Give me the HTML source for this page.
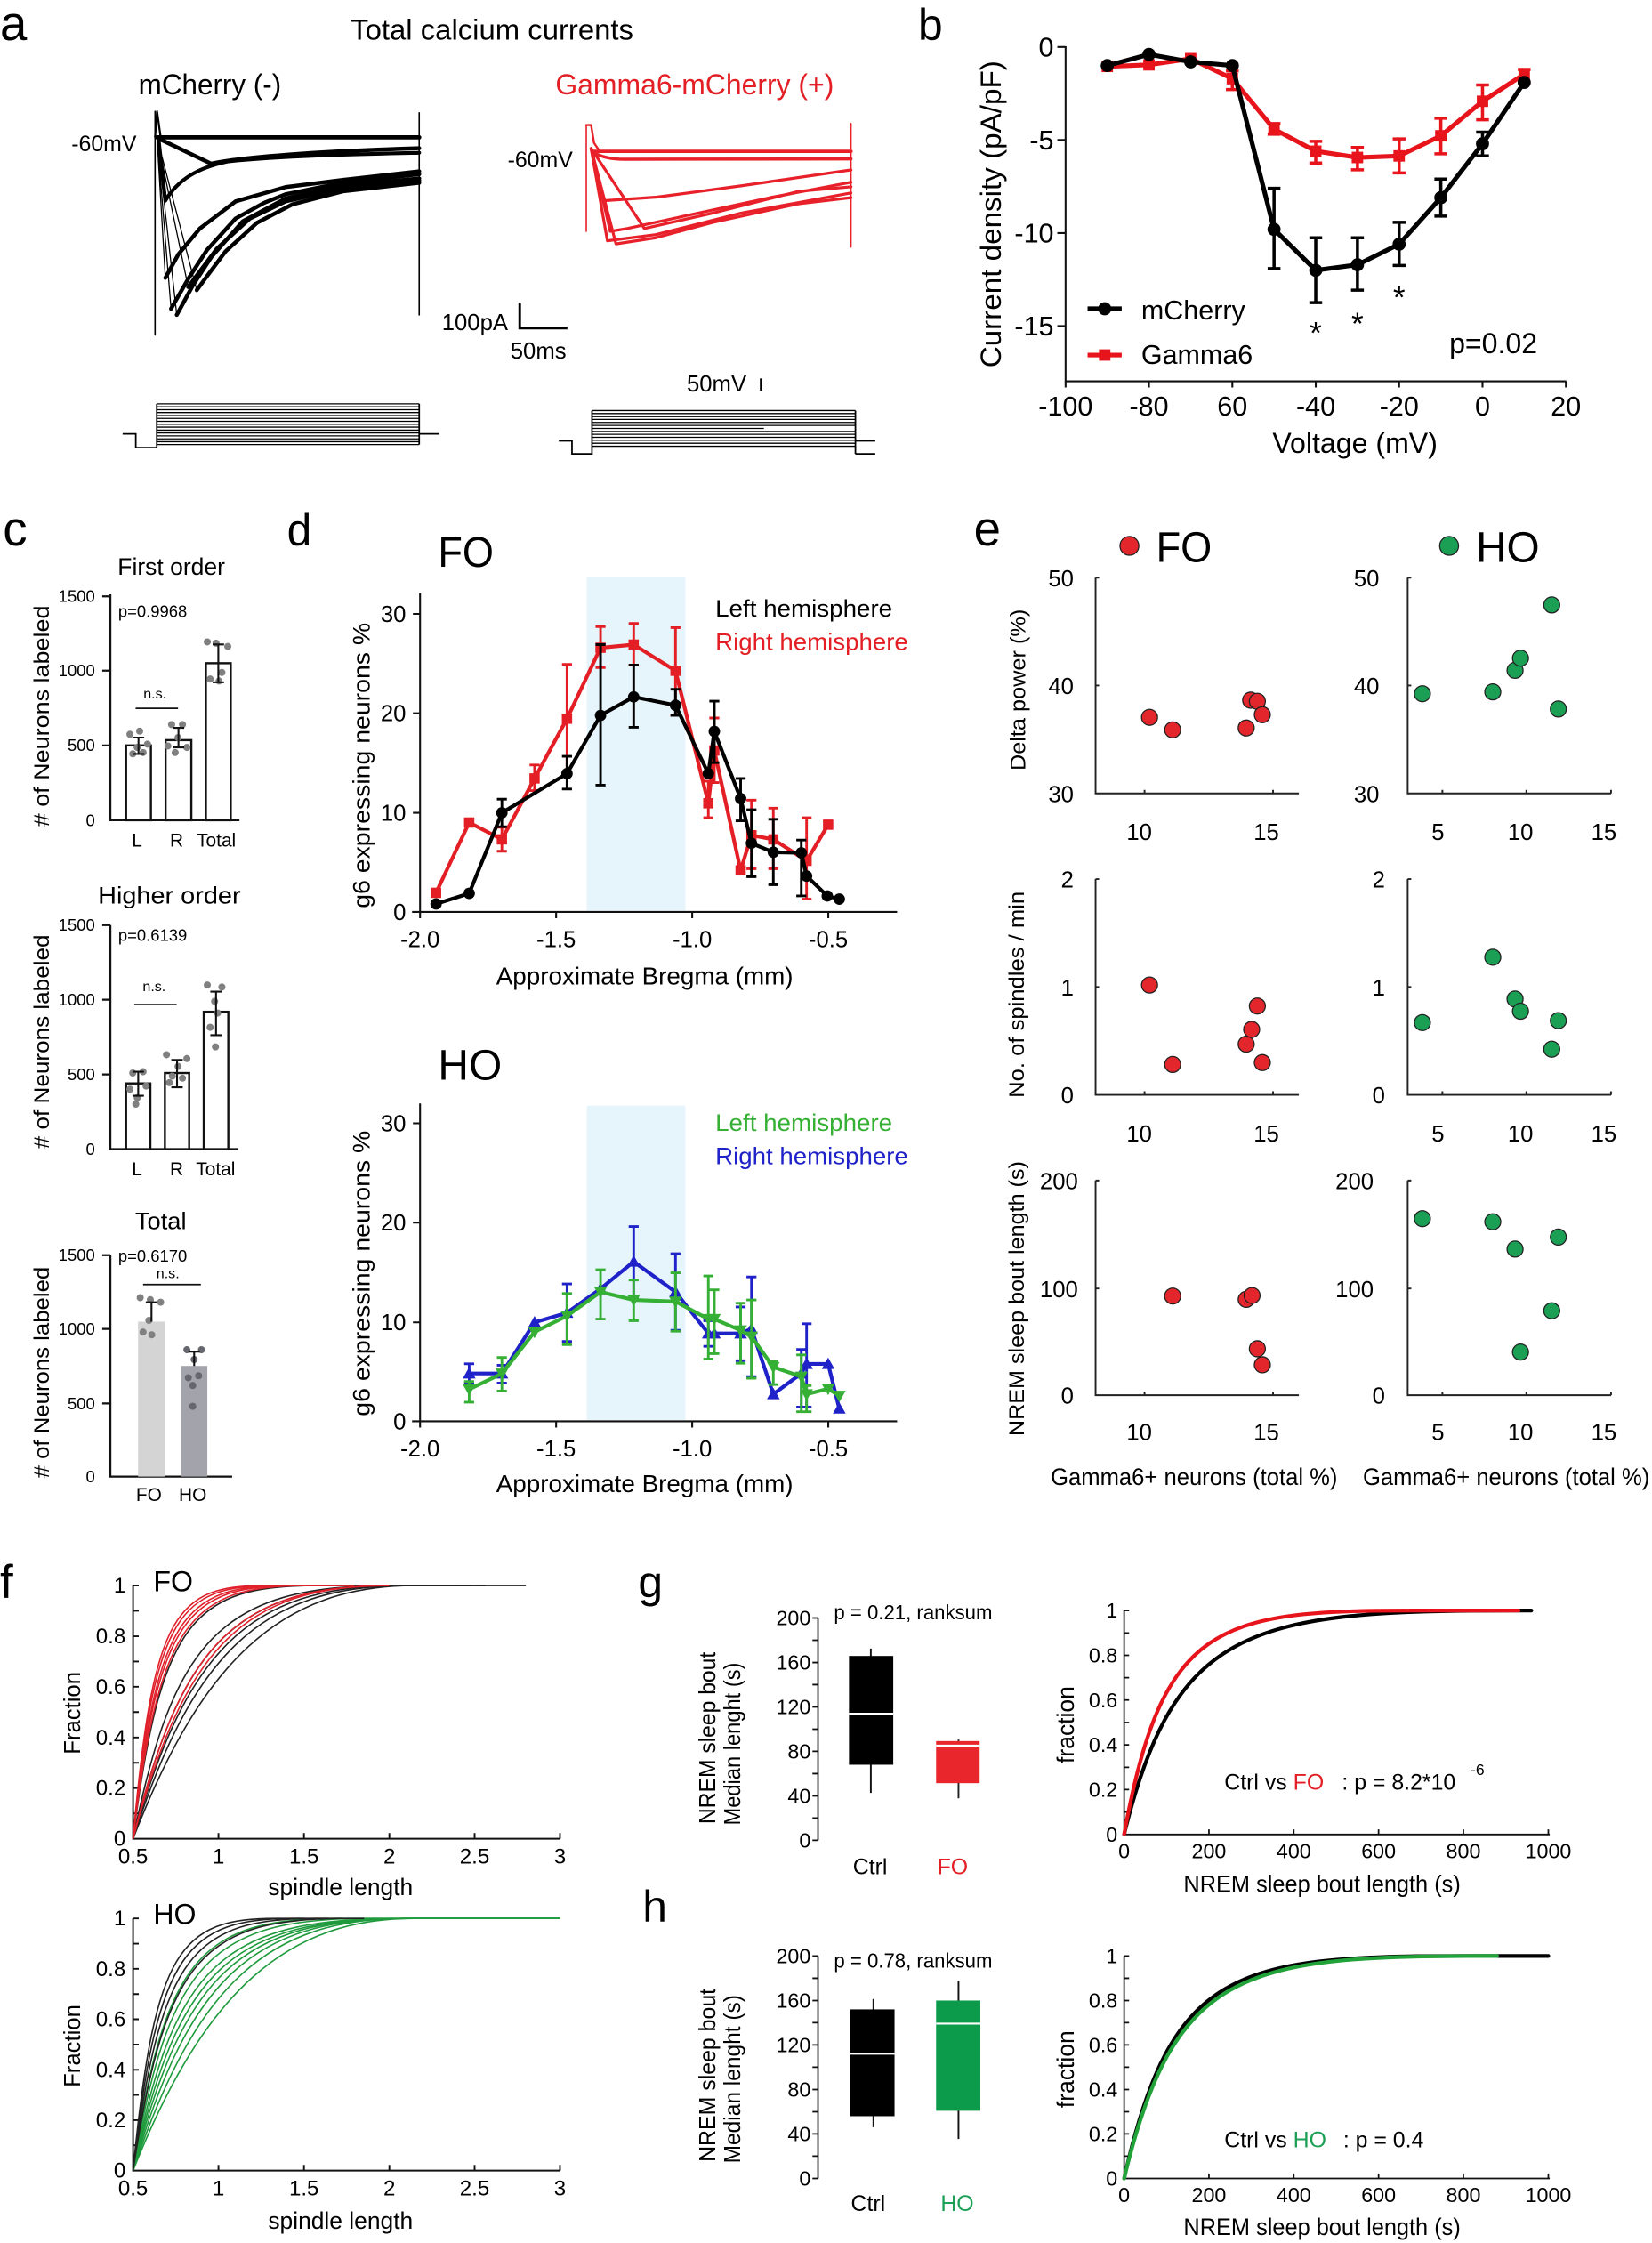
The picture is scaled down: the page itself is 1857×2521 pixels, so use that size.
<!DOCTYPE html>
<html><head><meta charset="utf-8"><title>Figure</title>
<style>
html,body{margin:0;padding:0;background:#fff;width:1857px;height:2521px;overflow:hidden}
svg{display:block}
text{font-family:"Liberation Sans",Arial,sans-serif}
</style></head><body>
<svg xmlns="http://www.w3.org/2000/svg" xmlns:xlink="http://www.w3.org/1999/xlink" width="1857" height="2521" viewBox="0 0 1157 1570.7" preserveAspectRatio="none">
<rect width="1157" height="1570.7" fill="#fff"/>
<defs>
<circle id="cb" r="4.6"/>
<rect id="sq" x="-4" y="-4" width="8" height="8"/>
<circle id="cd" r="4"/>
<rect id="sd" x="-3.6" y="-3.6" width="7.2" height="7.2"/>
<path id="tu" d="M0 -4.5L4.5 3.5H-4.5Z"/>
<path id="td" d="M0 4.5L4.5 -3.5H-4.5Z"/>
<circle id="dot" r="2.5"/>
<circle id="ec" r="5.6"/>
</defs>

<!-- ================= PANEL A ================= -->
<text x="0" y="28" font-size="34">a</text>
<text x="245.6" y="27.7" font-size="20" textLength="198" lengthAdjust="spacingAndGlyphs">Total calcium currents</text>
<text x="97" y="66" font-size="20" textLength="100" lengthAdjust="spacingAndGlyphs">mCherry (-)</text>
<text x="389" y="66" font-size="20" fill="#e31e24" textLength="195" lengthAdjust="spacingAndGlyphs">Gamma6-mCherry (+)</text>
<text x="50" y="106" font-size="15.5">-60mV</text>
<text x="355.5" y="117" font-size="15.5">-60mV</text>

<g fill="none" stroke="#000" stroke-linejoin="round" stroke-linecap="round">
<line x1="108.6" y1="78" x2="108.6" y2="234.6" stroke-width="1"/>
<line x1="293.6" y1="79" x2="293.6" y2="220.5" stroke-width="1"/>
<path d="M108.6 96 L110 78 L112.5 96" stroke-width="1.4"/>
<path d="M110 96.2 L293.6 96.2" stroke-width="3"/>
<path d="M111 97 L147.8 114.6 C170 110 220 106 293.6 103.8" stroke-width="2.8"/>
<path d="M111 97 L115.8 140.5 C125 125 140 117 160 113 C200 109 250 108 293.6 107" stroke-width="2.6"/>
<path d="M110 96.5 L115.8 194.6 M110 96.5 L119.8 216.2 M110 96.5 L123.8 220.5 M110 96.5 L131.8 201 M110 96.5 L137.8 203.2" stroke-width="0.8"/>
<polyline points="115.8,194.6 125,178 140,160 165,141 200,131 240,126 293.6,120" stroke-width="2.8"/>
<polyline points="119.8,216.2 132,195 145,175 165,153 185,142 200,136 240,128 293.6,122" stroke-width="2.8"/>
<polyline points="123.8,220.5 135,200 148,180 170,155 200,139 240,130 293.6,125" stroke-width="2.8"/>
<polyline points="131.8,201 140,190 152,174 175,153 200,141 240,132 293.6,126.5" stroke-width="2.8"/>
<polyline points="137.8,203.2 146,192 158,176 180,156 205,143 240,134 293.6,128" stroke-width="2.8"/>
</g>

<g fill="none" stroke="#e8202a" stroke-linejoin="round" stroke-linecap="round">
<line x1="410.6" y1="87.6" x2="410.6" y2="162" stroke-width="1"/>
<line x1="596" y1="86.5" x2="596" y2="173" stroke-width="1"/>
<path d="M410.6 87.6 L414 87.6 L416 100 L420 106" stroke-width="1.5"/>
<path d="M416 106 L596 106" stroke-width="2.4"/>
<path d="M416 107 Q425 112 440 111.5 L596 111.3" stroke-width="2.2"/>
<path d="M414 104 L423.4 140.5 L460 138 L520 130 L596 119" stroke-width="2"/>
<path d="M414 104 L427.4 162 L439.3 160 L479.3 151.3 L539.2 138.4 L596 127.6" stroke-width="2"/>
<path d="M414 104 L431.4 170.8 L459.3 166.5 L499.3 155.7 L559.2 142.7 L596 138.4" stroke-width="2"/>
<path d="M414 104 L451.3 160 L499.3 149.2 L559.2 134 L596 130.8" stroke-width="2"/>
<path d="M414 104 L425.4 168.6 L459.3 164.3 L519.2 149.2 L596 135.1" stroke-width="2"/>
</g>

<!-- scale bars -->
<text x="309.5" y="231" font-size="16">100pA</text>
<path d="M364 212 V229.8 H397.4" fill="none" stroke="#000" stroke-width="1.8"/>
<text x="357.5" y="251" font-size="16">50ms</text>
<text x="481" y="274" font-size="16">50mV</text>
<line x1="533" y1="265" x2="533" y2="273.5" stroke="#000" stroke-width="1.6"/>

<!-- step protocols -->
<g fill="none" stroke="#000" stroke-width="0.8">
<path d="M109.8 282.8H293.6M109.8 284.8H293.6M109.8 286.9H293.6M109.8 288.9H293.6M109.8 291H293.6M109.8 293H293.6M109.8 295H293.6M109.8 297.1H293.6M109.8 299.1H293.6M109.8 301.2H293.6M109.8 303.2H293.6M109.8 305.2H293.6M109.8 307.3H293.6M109.8 309.3H293.6M109.8 311.3H293.6"/>
<path d="M85.9 303.8H95.1V313.5H109.8V282.8M293.6 282.8V311.3M293.6 303.8H307.5" stroke-width="1.1"/>
<path d="M414.6 287.5H599.1M414.6 289.6H599.1M414.6 291.7H599.1M414.6 293.7H599.1M414.6 295.8H599.1M414.6 297.9H599.1M414.6 300H535M414.6 302.1H599.1M414.6 304.1H599.1M414.6 306.2H599.1M414.6 308.3H599.1M414.6 310.4H599.1M414.6 312.5H599.1"/>
<path d="M391.4 308.7H400.6V317.8H414.6V287.5M599.1 287.5V317.8M599.1 308.7H613M599.1 317.8H613" stroke-width="1.1"/>
</g>

<!-- ================= PANEL B ================= -->
<text x="643" y="28" font-size="31">b</text>
<g fill="none" stroke="#111" stroke-width="1.3">
<path d="M746.3 32.4V267H1097"/>
<path d="M740.5 32.9H746.3M740.5 98H746.3M740.5 163.2H746.3M740.5 228.3H746.3"/>
<path d="M746.3 267v4.3M804.7 267v4.3M863.1 267v4.3M921.5 267v4.3M979.9 267v4.3M1038.3 267v4.3M1096.7 267v4.3"/>
</g>
<g font-size="19" text-anchor="end">
<text x="738" y="39.5">0</text>
<text x="738" y="104.6">-5</text>
<text x="738" y="169.8">-10</text>
<text x="738" y="235">-15</text>
</g>
<g font-size="19" text-anchor="middle">
<text x="746.3" y="291">-100</text>
<text x="804.7" y="291">-80</text>
<text x="863.1" y="291">60</text>
<text x="921.5" y="291">-40</text>
<text x="979.9" y="291">-20</text>
<text x="1038.3" y="291">0</text>
<text x="1096.7" y="291">20</text>
</g>
<text x="949" y="317" font-size="20" text-anchor="middle">Voltage (mV)</text>
<text transform="translate(701,150) rotate(-90)" font-size="20" text-anchor="middle" textLength="215" lengthAdjust="spacingAndGlyphs">Current density  (pA/pF)</text>

<g fill="none" stroke="#e8141c" stroke-width="2.2">
<path d="M863.1 49.7V62.7M858.6 49.7h9M858.6 62.7h9M892.3 86.5V94M887.8 86.5h9M887.8 94h9M921.5 99V114.2M917 99h9M917 114.2h9M950.7 103.3V118.9M946.2 103.3h9M946.2 118.9h9M979.9 97.3V121.1M975.4 97.3h9M975.4 121.1h9M1009.1 82.8V107.7M1004.6 82.8h9M1004.6 107.7h9M1038.3 59.5V83.9M1033.8 59.5h9M1033.8 83.9h9M1067.5 48.6V58M1063 48.6h9M1063 58h9"/>
<polyline stroke-width="3.2" stroke-linejoin="round" points="775.5,46.5 804.7,45.4 833.9,41.1 863.1,55.1 892.3,90.4 921.5,105.9 950.7,110.3 979.9,109.2 1009.1,95.1 1038.3,70.9 1067.5,51.9"/>
</g>
<g fill="#e8141c">
<use href="#sq" x="775.5" y="46.5"/><use href="#sq" x="804.7" y="45.4"/><use href="#sq" x="833.9" y="41.1"/><use href="#sq" x="863.1" y="55.1"/><use href="#sq" x="892.3" y="90.4"/><use href="#sq" x="921.5" y="105.9"/><use href="#sq" x="950.7" y="110.3"/><use href="#sq" x="979.9" y="109.2"/><use href="#sq" x="1009.1" y="95.1"/><use href="#sq" x="1038.3" y="70.9"/><use href="#sq" x="1067.5" y="51.9"/>
</g>
<g fill="none" stroke="#000" stroke-width="2.2">
<path d="M892.3 131.9V188.1M887.8 131.9h9M887.8 188.1h9M921.5 166.5V211.9M917 166.5h9M917 211.9h9M950.7 166.5V203.2M946.2 166.5h9M946.2 203.2h9M979.9 155.7V185.9M975.4 155.7h9M975.4 185.9h9M1009.1 125.4V151.3M1004.6 125.4h9M1004.6 151.3h9M1038.3 92.5V109.2M1033.8 92.5h9M1033.8 109.2h9"/>
<polyline stroke-width="3.2" stroke-linejoin="round" points="775.5,45.9 804.7,38.1 833.9,43.3 863.1,45.9 892.3,160.6 921.5,189.3 950.7,185.4 979.9,171 1009.1,138.4 1038.3,100.7 1067.5,57.7"/>
</g>
<g fill="#000">
<use href="#cb" x="775.5" y="45.9"/><use href="#cb" x="804.7" y="38.1"/><use href="#cb" x="833.9" y="43.3"/><use href="#cb" x="863.1" y="45.9"/><use href="#cb" x="892.3" y="160.6"/><use href="#cb" x="921.5" y="189.3"/><use href="#cb" x="950.7" y="185.4"/><use href="#cb" x="979.9" y="171"/><use href="#cb" x="1009.1" y="138.4"/><use href="#cb" x="1038.3" y="100.7"/><use href="#cb" x="1067.5" y="57.7"/>
</g>
<g font-size="22" text-anchor="middle">
<text x="921.5" y="240.8">*</text>
<text x="950.7" y="234.4">*</text>
<text x="979.9" y="216">*</text>
</g>
<line x1="761.7" y1="216.2" x2="785.6" y2="216.2" stroke="#000" stroke-width="3.2"/>
<use href="#cb" x="773.7" y="216.2" fill="#000"/>
<line x1="761.7" y1="248.6" x2="785.6" y2="248.6" stroke="#e8141c" stroke-width="3.2"/>
<use href="#sq" x="773.7" y="248.6" fill="#e8141c"/>
<text x="799.3" y="223.8" font-size="19">mCherry</text>
<text x="799.3" y="254.7" font-size="19">Gamma6</text>
<text x="1015" y="247.5" font-size="20">p=0.02</text>

<!-- ================= PANEL C ================= -->
<text x="2" y="382" font-size="34">c</text>
<text x="120" y="402.5" font-size="16.5" text-anchor="middle">First order</text>
<text x="118.6" y="632.8" font-size="17" text-anchor="middle" textLength="100" lengthAdjust="spacingAndGlyphs">Higher order</text>
<text x="112.6" y="860.8" font-size="17" text-anchor="middle">Total</text>
<g font-size="15" text-anchor="middle">
<text transform="translate(34.3,501.5) rotate(-90)" textLength="155" lengthAdjust="spacingAndGlyphs"># of Neurons labeled</text>
<text transform="translate(34.3,729.5) rotate(-90)" textLength="150" lengthAdjust="spacingAndGlyphs"># of Neurons labeled</text>
<text transform="translate(34.3,961.1) rotate(-90)" textLength="148" lengthAdjust="spacingAndGlyphs"># of Neurons labeled</text>
</g>
<g fill="none" stroke="#111" stroke-width="1.4">
<path d="M77.3 416.2V574.4H167.7M71.6 417.6H77.3M71.6 469.6H77.3M71.6 522H77.3"/>
<path d="M77.3 647.8V804.7H166.7M71.6 647.8H77.3M71.6 700.1H77.3M71.6 752.4H77.3"/>
<path d="M77.3 879V1034H162.6M71.6 879H77.3M71.6 930.6H77.3M71.6 982.8H77.3"/>
</g>
<g font-size="11.5" text-anchor="end">
<text x="66.5" y="421.6">1500</text><text x="66.5" y="473.6">1000</text><text x="66.5" y="526">500</text><text x="66.5" y="578.4">0</text>
<text x="66.5" y="651.8">1500</text><text x="66.5" y="704.1">1000</text><text x="66.5" y="756.4">500</text><text x="66.5" y="808.7">0</text>
<text x="66.5" y="883">1500</text><text x="66.5" y="934.6">1000</text><text x="66.5" y="986.8">500</text><text x="66.5" y="1038">0</text>
</g>
<g font-size="11.5">
<text x="82.8" y="432.2">p=0.9968</text>
<text x="82.8" y="659">p=0.6139</text>
<text x="82.8" y="883.6">p=0.6170</text>
</g>
<g font-size="10" text-anchor="middle">
<text x="108.5" y="489">n.s.</text>
<text x="108" y="694">n.s.</text>
<text x="117.6" y="895">n.s.</text>
</g>
<g stroke="#111" stroke-width="1.1">
<line x1="95" y1="496" x2="124.7" y2="496"/>
<line x1="94" y1="703.5" x2="123.7" y2="703.5"/>
<line x1="100.2" y1="899.5" x2="140.7" y2="899.5"/>
</g>
<g fill="#fff" stroke="#111" stroke-width="1.5">
<rect x="88.3" y="522" width="17.4" height="52.4"/>
<rect x="116" y="518.3" width="18" height="56.1"/>
<rect x="144.2" y="464.4" width="17.4" height="110"/>
<rect x="88.3" y="758.7" width="17" height="46"/>
<rect x="115.5" y="751.4" width="17" height="53.3"/>
<rect x="142.7" y="708.5" width="17.2" height="96.2"/>
</g>
<rect x="96.7" y="925.5" width="18.8" height="108.5" fill="#d4d4d4"/>
<rect x="126.8" y="956.5" width="18.4" height="77.5" fill="#a3a3ab"/>
<g fill="#808080">
<use href="#dot" x="91" y="514.2"/><use href="#dot" x="97.8" y="512"/><use href="#dot" x="103.3" y="521.1"/><use href="#dot" x="93" y="527.9"/><use href="#dot" x="100.2" y="527"/><use href="#dot" x="96.1" y="523.4"/>
<use href="#dot" x="120.2" y="507.4"/><use href="#dot" x="127.8" y="507.4"/><use href="#dot" x="124.7" y="516.5"/><use href="#dot" x="117.6" y="522.4"/><use href="#dot" x="130.9" y="523.4"/><use href="#dot" x="122.7" y="527"/>
<use href="#dot" x="145.2" y="449.5"/><use href="#dot" x="151.3" y="450.4"/><use href="#dot" x="159.5" y="452.7"/><use href="#dot" x="155.4" y="470.9"/><use href="#dot" x="147.2" y="475.5"/><use href="#dot" x="153.4" y="476.9"/>
<use href="#dot" x="93" y="751.4"/><use href="#dot" x="100.2" y="750.5"/><use href="#dot" x="91" y="762.8"/><use href="#dot" x="96.1" y="768.7"/><use href="#dot" x="102.3" y="760.5"/><use href="#dot" x="95.1" y="773.2"/>
<use href="#dot" x="116.6" y="738.6"/><use href="#dot" x="130.9" y="741.3"/><use href="#dot" x="124.7" y="746.8"/><use href="#dot" x="120.7" y="753.6"/><use href="#dot" x="127.8" y="755"/><use href="#dot" x="118.6" y="758.2"/>
<use href="#dot" x="145.2" y="689.8"/><use href="#dot" x="155.4" y="691.2"/><use href="#dot" x="150.3" y="701.2"/><use href="#dot" x="152.4" y="709.4"/><use href="#dot" x="147.2" y="719.4"/><use href="#dot" x="150.9" y="733.1"/>
<use href="#dot" x="98.2" y="908.7"/><use href="#dot" x="105.3" y="910.1"/><use href="#dot" x="112.5" y="911.9"/><use href="#dot" x="104.3" y="924.6"/><use href="#dot" x="100.2" y="932.8"/><use href="#dot" x="106.3" y="934.7"/>
</g>
<g fill="#66666e">
<use href="#dot" x="130.9" y="945.2"/><use href="#dot" x="141.1" y="945.2"/><use href="#dot" x="136" y="952"/><use href="#dot" x="131.9" y="964.8"/><use href="#dot" x="139.1" y="963.4"/><use href="#dot" x="135" y="970.2"/><use href="#dot" x="135" y="984.8"/>
</g>
<g fill="none" stroke="#111" stroke-width="1.3">
<path d="M97 516.5V528M93 516.5h8M93 528h8"/>
<path d="M125 509.7V523.4M121 509.7h8M121 523.4h8"/>
<path d="M152.9 451.3V477.8M148.9 451.3h8M148.9 477.8h8"/>
<path d="M96.8 750.5V767.3M92.8 750.5h8M92.8 767.3h8"/>
<path d="M124 742.2V761.4M120 742.2h8M120 761.4h8"/>
<path d="M151.3 694.4V724.9M147.3 694.4h8M147.3 724.9h8"/>
<path d="M106.1 911.9V925.5M102.1 911.9h8"/>
<path d="M136 946.5V956.5M132 946.5h8"/>
</g>
<g font-size="13" text-anchor="middle">
<text x="96" y="592.7">L</text><text x="123.7" y="592.7">R</text><text x="151.5" y="592.7">Total</text>
<text x="96" y="823">L</text><text x="123.7" y="823">R</text><text x="151" y="823">Total</text>
<text x="104.3" y="1051">FO</text><text x="135" y="1051">HO</text>
</g>

<!-- ================= PANEL D ================= -->
<text x="201" y="382" font-size="31">d</text>
<rect x="411" y="403.7" width="69" height="234" fill="#e6f5fc"/>
<rect x="411" y="774.3" width="69" height="220" fill="#e6f5fc"/>
<text x="306.8" y="397" font-size="30" textLength="39" lengthAdjust="spacingAndGlyphs">FO</text>
<text x="306.8" y="756" font-size="30" textLength="44.7" lengthAdjust="spacingAndGlyphs">HO</text>
<g fill="none" stroke="#111" stroke-width="1.3">
<path d="M294.2 415.3V638.6H628.3M288.6 638.6H294.2M289.2 429.9H294.2M289.2 499.5H294.2M289.2 569.2H294.2M294.2 638.6v4.4M389.5 638.6v4.4M484.8 638.6v4.4M580.1 638.6v4.4"/>
<path d="M294.2 772.7V995.3H628.3M288.6 995.3H294.2M289.2 786.6H294.2M289.2 856.2H294.2M289.2 926H294.2M294.2 995.3v4.4M389.5 995.3v4.4M484.8 995.3v4.4M580.1 995.3v4.4"/>
</g>
<g font-size="16" text-anchor="end">
<text x="284.4" y="435.4">30</text><text x="284.4" y="505">20</text><text x="284.4" y="574.7">10</text><text x="284.4" y="644.1">0</text>
<text x="284.4" y="792.1">30</text><text x="284.4" y="861.7">20</text><text x="284.4" y="931.5">10</text><text x="284.4" y="1000.8">0</text>
</g>
<g font-size="16" text-anchor="middle">
<text x="294.2" y="663.2">-2.0</text><text x="389.5" y="663.2">-1.5</text><text x="484.8" y="663.2">-1.0</text><text x="580.1" y="663.2">-0.5</text>
<text x="294.2" y="1020">-2.0</text><text x="389.5" y="1020">-1.5</text><text x="484.8" y="1020">-1.0</text><text x="580.1" y="1020">-0.5</text>
</g>
<text x="451.5" y="689.4" font-size="17.5" text-anchor="middle" textLength="208" lengthAdjust="spacingAndGlyphs">Approximate Bregma (mm)</text>
<text x="451.5" y="1045" font-size="17.5" text-anchor="middle" textLength="208" lengthAdjust="spacingAndGlyphs">Approximate Bregma (mm)</text>
<text transform="translate(259,536) rotate(-90)" font-size="17" text-anchor="middle" textLength="200" lengthAdjust="spacingAndGlyphs">g6 expressing neurons %</text>
<text transform="translate(259,891.7) rotate(-90)" font-size="17" text-anchor="middle" textLength="200" lengthAdjust="spacingAndGlyphs">g6 expressing neurons %</text>
<text x="501" y="431.7" font-size="17" textLength="124" lengthAdjust="spacingAndGlyphs">Left hemisphere</text>
<text x="501" y="455.2" font-size="17" fill="#e31e24" textLength="135" lengthAdjust="spacingAndGlyphs">Right hemisphere</text>
<text x="501" y="791.8" font-size="17" fill="#35b035" textLength="124" lengthAdjust="spacingAndGlyphs">Left hemisphere</text>
<text x="501" y="815.2" font-size="17" fill="#1e22c8" textLength="135" lengthAdjust="spacingAndGlyphs">Right hemisphere</text>

<!-- FO data -->
<g fill="none" stroke="#e31e24" stroke-width="1.8">
<path d="M351.5 579.3V596.1M348 579.3h7M348 596.1h7M374.4 535.7V553.6M370.9 535.7h7M370.9 553.6h7M397.1 465.2V541.3M393.6 465.2h7M393.6 541.3h7M420.6 438.8V467.5M417.1 438.8h7M417.1 467.5h7M443.8 436.6V465.7M440.3 436.6h7M440.3 465.7h7M473.1 439.5V501M469.6 439.5h7M469.6 501h7M496.1 547V572.6M492.6 547h7M492.6 572.6h7M500.3 502.8V548M496.8 502.8h7M496.8 548h7M526.3 560.3V608.4M522.8 560.3h7M522.8 608.4h7M541.6 565.9V608.4M538.1 565.9h7M538.1 608.4h7M564.9 572.6V629.6M561.4 572.6h7M561.4 629.6h7"/>
<polyline stroke-width="2.6" stroke-linejoin="round" points="305.4,625.2 328.6,576 351.5,587.8 374.4,545.1 397.1,503.3 420.6,453.6 443.8,451.4 473.1,469.7 496.1,562.5 500.3,525.6 518.7,609.5 526.3,584.9 541.6,587.8 564.9,602.8 580,577.5"/>
</g>
<g fill="#e31e24">
<use href="#sd" x="305.4" y="625.2"/><use href="#sd" x="328.6" y="576"/><use href="#sd" x="351.5" y="587.8"/><use href="#sd" x="374.4" y="545.1"/><use href="#sd" x="397.1" y="503.3"/><use href="#sd" x="420.6" y="453.6"/><use href="#sd" x="443.8" y="451.4"/><use href="#sd" x="473.1" y="469.7"/><use href="#sd" x="496.1" y="562.5"/><use href="#sd" x="500.3" y="525.6"/><use href="#sd" x="518.7" y="609.5"/><use href="#sd" x="526.3" y="584.9"/><use href="#sd" x="541.6" y="587.8"/><use href="#sd" x="564.9" y="602.8"/><use href="#sd" x="580" y="577.5"/>
</g>
<g fill="none" stroke="#000" stroke-width="1.8">
<path d="M351.5 559.6V578.9M348 559.6h7M348 578.9h7M397.1 529.6V552.5M393.6 529.6h7M393.6 552.5h7M420.6 451.4V549.8M417.1 451.4h7M417.1 549.8h7M443.8 465.7V509.3M440.3 465.7h7M440.3 509.3h7M473.1 482.7V501M469.6 482.7h7M469.6 501h7M500.3 491V534.1M496.8 491h7M496.8 534.1h7M518.7 545.1V574.8M515.2 545.1h7M515.2 574.8h7M526.3 567V614M522.8 567h7M522.8 614h7M541.6 573.7V619.6M538.1 573.7h7M538.1 619.6h7M561.2 588.3V627.4M557.7 588.3h7M557.7 627.4h7"/>
<polyline stroke-width="2.6" stroke-linejoin="round" points="305.4,633 328.6,625.6 351.5,569.2 397.1,541.7 420.6,501 443.8,488 473.1,493.9 496.1,541.7 500.3,512.2 518.7,559.2 526.3,590.5 541.6,596.8 561.2,597.2 564.9,613.5 579.4,627.4 587.8,629.6"/>
</g>
<g fill="#000">
<use href="#cd" x="305.4" y="633"/><use href="#cd" x="328.6" y="625.6"/><use href="#cd" x="351.5" y="569.2"/><use href="#cd" x="397.1" y="541.7"/><use href="#cd" x="420.6" y="501"/><use href="#cd" x="443.8" y="488"/><use href="#cd" x="473.1" y="493.9"/><use href="#cd" x="496.1" y="541.7"/><use href="#cd" x="500.3" y="512.2"/><use href="#cd" x="518.7" y="559.2"/><use href="#cd" x="526.3" y="590.5"/><use href="#cd" x="541.6" y="596.8"/><use href="#cd" x="561.2" y="597.2"/><use href="#cd" x="564.9" y="613.5"/><use href="#cd" x="579.4" y="627.4"/><use href="#cd" x="587.8" y="629.6"/>
</g>

<!-- HO data -->
<g fill="none" stroke="#1e22c8" stroke-width="1.8">
<path d="M328.6 955V968.5M325.1 955h7M325.1 968.5h7M351.5 956V968.5M348 956h7M348 968.5h7M397.1 899.1V939.4M393.6 899.1h7M393.6 939.4h7M443.8 858.9V909.2M440.3 858.9h7M440.3 909.2h7M473.1 877.9V931.6M469.6 877.9h7M469.6 931.6h7M496.1 924.9V942.8M492.6 924.9h7M492.6 942.8h7M518.7 915.2V952.8M515.2 915.2h7M515.2 952.8h7M526.3 894.2V964M522.8 894.2h7M522.8 964h7M561.2 945V985.3M557.7 945h7M557.7 985.3h7M564.9 927V985.3M561.4 927h7M561.4 985.3h7"/>
<polyline stroke-width="2.6" stroke-linejoin="round" points="328.6,961.8 351.5,961.8 374.4,926 397.1,919.3 420.6,902.5 443.8,883.5 473.1,904.7 496.1,933.8 500.3,933.8 518.7,933.8 526.3,930.5 541.6,976.3 561.2,961.8 564.9,955.1 580,955.1 587.8,986.4"/>
</g>
<g fill="#1e22c8">
<use href="#tu" x="328.6" y="961.8"/><use href="#tu" x="351.5" y="961.8"/><use href="#tu" x="374.4" y="926"/><use href="#tu" x="397.1" y="919.3"/><use href="#tu" x="420.6" y="902.5"/><use href="#tu" x="443.8" y="883.5"/><use href="#tu" x="473.1" y="904.7"/><use href="#tu" x="496.1" y="933.8"/><use href="#tu" x="500.3" y="933.8"/><use href="#tu" x="518.7" y="933.8"/><use href="#tu" x="526.3" y="930.5"/><use href="#tu" x="541.6" y="976.3"/><use href="#tu" x="561.2" y="961.8"/><use href="#tu" x="564.9" y="955.1"/><use href="#tu" x="580" y="955.1"/><use href="#tu" x="587.8" y="986.4"/>
</g>
<g fill="none" stroke="#35b035" stroke-width="1.8">
<path d="M328.6 967.4V981.9M325.1 967.4h7M325.1 981.9h7M351.5 950.6V974.1M348 950.6h7M348 974.1h7M397.1 905.8V941.6M393.6 905.8h7M393.6 941.6h7M420.6 889.1V923.7M417.1 889.1h7M417.1 923.7h7M443.8 896.4V924.9M440.3 896.4h7M440.3 924.9h7M473.1 891.3V932.2M469.6 891.3h7M469.6 932.2h7M496.1 893.5V951.7M492.6 893.5h7M492.6 951.7h7M500.3 903.2V947.9M496.8 903.2h7M496.8 947.9h7M518.7 912.6V954.6M515.2 912.6h7M515.2 954.6h7M526.3 910.3V965.1M522.8 910.3h7M522.8 965.1h7M541.6 953.3V969.6M538.1 953.3h7M538.1 969.6h7M561.2 948.8V988.6M557.7 948.8h7M557.7 988.6h7M564.9 970.3V988.6M561.4 970.3h7M561.4 988.6h7"/>
<polyline stroke-width="2.6" stroke-linejoin="round" points="328.6,972.9 351.5,961.8 374.4,932.7 397.1,921.5 420.6,904.7 443.8,910.3 473.1,911.4 496.1,923.7 500.3,923.7 518.7,931.6 526.3,936 541.6,957.3 561.2,964 564.9,976.3 580,972.5 587.8,977.4"/>
</g>
<g fill="#35b035">
<use href="#td" x="328.6" y="972.9"/><use href="#td" x="351.5" y="961.8"/><use href="#td" x="374.4" y="932.7"/><use href="#td" x="397.1" y="921.5"/><use href="#td" x="420.6" y="904.7"/><use href="#td" x="443.8" y="910.3"/><use href="#td" x="473.1" y="911.4"/><use href="#td" x="496.1" y="923.7"/><use href="#td" x="500.3" y="923.7"/><use href="#td" x="518.7" y="931.6"/><use href="#td" x="526.3" y="936"/><use href="#td" x="541.6" y="957.3"/><use href="#td" x="561.2" y="964"/><use href="#td" x="564.9" y="976.3"/><use href="#td" x="580" y="972.5"/><use href="#td" x="587.8" y="977.4"/>
</g>

<!-- ================= PANEL E ================= -->
<text x="682" y="382" font-size="34">e</text>
<circle cx="791" cy="382.2" r="6.6" fill="#e3262b" stroke="#222" stroke-width="0.8"/>
<text x="809.7" y="393.3" font-size="30" textLength="39" lengthAdjust="spacingAndGlyphs">FO</text>
<circle cx="1014.9" cy="382.2" r="6.6" fill="#1a9f55" stroke="#222" stroke-width="0.8"/>
<text x="1033.7" y="393.3" font-size="30" textLength="44.6" lengthAdjust="spacingAndGlyphs">HO</text>
<g fill="none" stroke="#222" stroke-width="1.2">
<path d="M767.3 404.5V555.6H909.7M767.3 615.6V766.7H909.7M767.3 826.7V977H909.7"/>
<path d="M985.9 404.5V555.6H1128.3M985.9 615.6V766.7H1128.3M985.9 826.7V977H1128.3"/>
<path d="M801.6 555.6v-2.5M891.6 555.6v-2.5M801.6 766.7v-2.5M891.6 766.7v-2.5M801.6 977v-2.5M891.6 977v-2.5"/>
<path d="M1010.2 555.6v-2.5M1069 555.6v-2.5M1128.3 555.6v-2.5M1010.2 766.7v-2.5M1069 766.7v-2.5M1128.3 766.7v-2.5M1010.2 977v-2.5M1069 977v-2.5M1128.3 977v-2.5"/>
<path d="M767.3 404.5h2.5M767.3 480h2.5M767.3 615.6h2.5M767.3 691.2h2.5M767.3 826.7h2.5M767.3 902.3h2.5M985.9 404.5h2.5M985.9 480h2.5M985.9 615.6h2.5M985.9 691.2h2.5M985.9 826.7h2.5M985.9 902.3h2.5"/>
</g>
<g font-size="16" text-anchor="end">
<text x="752" y="410.5">50</text><text x="752" y="486">40</text><text x="752" y="561.6">30</text>
<text x="752" y="621.6">2</text><text x="752" y="697.2">1</text><text x="752" y="772.7">0</text>
<text x="755" y="832.7">200</text><text x="755" y="908.3">100</text><text x="752" y="983">0</text>
<text x="966" y="410.5">50</text><text x="966" y="486">40</text><text x="966" y="561.6">30</text>
<text x="970" y="621.6">2</text><text x="970" y="697.2">1</text><text x="970" y="772.7">0</text>
<text x="962" y="832.7">200</text><text x="962" y="908.3">100</text><text x="970" y="983">0</text>
</g>
<g font-size="16" text-anchor="middle">
<text x="797.9" y="588.3">10</text><text x="886.9" y="588.3">15</text>
<text x="797.9" y="799.4">10</text><text x="886.9" y="799.4">15</text>
<text x="797.9" y="1008.3">10</text><text x="886.9" y="1008.3">15</text>
<text x="1007.1" y="588.3">5</text><text x="1064.9" y="588.3">10</text><text x="1123.3" y="588.3">15</text>
<text x="1007.1" y="799.4">5</text><text x="1064.9" y="799.4">10</text><text x="1123.3" y="799.4">15</text>
<text x="1007.1" y="1008.3">5</text><text x="1064.9" y="1008.3">10</text><text x="1123.3" y="1008.3">15</text>
</g>
<g font-size="15" text-anchor="middle">
<text transform="translate(718,483.1) rotate(-90)" textLength="113" lengthAdjust="spacingAndGlyphs">Delta power (%)</text>
<text transform="translate(717,696.5) rotate(-90)" textLength="144.5" lengthAdjust="spacingAndGlyphs">No. of spindles / min</text>
<text transform="translate(717,909.4) rotate(-90)" textLength="192.5" lengthAdjust="spacingAndGlyphs">NREM sleep bout length (s)</text>
</g>
<text x="836.3" y="1040" font-size="17" text-anchor="middle" textLength="200.8" lengthAdjust="spacingAndGlyphs">Gamma6+ neurons (total %)</text>
<text x="1054.9" y="1040" font-size="17" text-anchor="middle" textLength="200.8" lengthAdjust="spacingAndGlyphs">Gamma6+ neurons (total %)</text>
<g fill="#e3262b" stroke="#222" stroke-width="0.8">
<use href="#ec" x="805.1" y="502.3"/><use href="#ec" x="821.3" y="511.1"/><use href="#ec" x="872.8" y="509.8"/><use href="#ec" x="875.9" y="490.3"/><use href="#ec" x="880.6" y="491.1"/><use href="#ec" x="884.1" y="500.5"/>
<use href="#ec" x="805.1" y="689.8"/><use href="#ec" x="821.3" y="745.4"/><use href="#ec" x="872.8" y="731.2"/><use href="#ec" x="876.6" y="720.9"/><use href="#ec" x="880.6" y="704.5"/><use href="#ec" x="884.1" y="744.1"/>
<use href="#ec" x="821.3" y="907.6"/><use href="#ec" x="872.8" y="909.9"/><use href="#ec" x="876.9" y="907.2"/><use href="#ec" x="880.6" y="944.5"/><use href="#ec" x="884.1" y="955.7"/>
</g>
<g fill="#1a9f55" stroke="#222" stroke-width="0.8">
<use href="#ec" x="996.2" y="485.8"/><use href="#ec" x="1045.5" y="484.5"/><use href="#ec" x="1061.1" y="469.4"/><use href="#ec" x="1064.9" y="460.9"/><use href="#ec" x="1086.8" y="423.6"/><use href="#ec" x="1091.4" y="496.5"/>
<use href="#ec" x="996.2" y="716.1"/><use href="#ec" x="1045.5" y="670.3"/><use href="#ec" x="1061.1" y="699.6"/><use href="#ec" x="1064.9" y="708.1"/><use href="#ec" x="1086.8" y="734.7"/><use href="#ec" x="1091.4" y="714.7"/>
<use href="#ec" x="996.2" y="853.4"/><use href="#ec" x="1045.5" y="855.6"/><use href="#ec" x="1061.1" y="874.7"/><use href="#ec" x="1064.9" y="946.8"/><use href="#ec" x="1086.8" y="917.9"/><use href="#ec" x="1091.4" y="866.3"/>
</g>

<!-- ================= PANEL F ================= -->
<text x="0" y="1119" font-size="33">f</text>
<text x="107.4" y="1114.2" font-size="20">FO</text>
<text x="107.4" y="1347.3" font-size="20">HO</text>
<g fill="none" stroke="#111" stroke-width="1.2">
<path d="M93.2 1110.3V1287.6H392.2"/>
<path d="M93.2 1269.9h4M93.2 1252.1h4M93.2 1234.4h4M93.2 1216.7h4M93.2 1198.9h4M93.2 1181.2h4M93.2 1163.5h4M93.2 1145.8h4M93.2 1128h4M93.2 1110.3h4M153 1287.6v-4M212.9 1287.6v-4M272.7 1287.6v-4M332.4 1287.6v-4M392.2 1287.6v-4"/>
<path d="M93.2 1343.4V1520H392.2"/>
<path d="M93.2 1502.3h4M93.2 1484.7h4M93.2 1467h4M93.2 1449.4h4M93.2 1431.7h4M93.2 1414h4M93.2 1396.4h4M93.2 1378.7h4M93.2 1361.1h4M93.2 1343.4h4M153 1520v-4M212.9 1520v-4M272.7 1520v-4M332.4 1520v-4M392.2 1520v-4"/>
</g>
<g font-size="15" text-anchor="end">
<text x="88" y="1115.3">1</text><text x="88" y="1150.8">0.8</text><text x="88" y="1186.2">0.6</text><text x="88" y="1221.7">0.4</text><text x="88" y="1257.1">0.2</text><text x="88" y="1292.6">0</text>
<text x="88" y="1348.4">1</text><text x="88" y="1383.7">0.8</text><text x="88" y="1419">0.6</text><text x="88" y="1454.4">0.4</text><text x="88" y="1489.7">0.2</text><text x="88" y="1525">0</text>
</g>
<g font-size="15" text-anchor="middle">
<text x="93.2" y="1304.9">0.5</text><text x="153" y="1304.9">1</text><text x="212.9" y="1304.9">1.5</text><text x="272.7" y="1304.9">2</text><text x="332.4" y="1304.9">2.5</text><text x="392.2" y="1304.9">3</text>
<text x="93.2" y="1537.3">0.5</text><text x="153" y="1537.3">1</text><text x="212.9" y="1537.3">1.5</text><text x="272.7" y="1537.3">2</text><text x="332.4" y="1537.3">2.5</text><text x="392.2" y="1537.3">3</text>
</g>
<text x="238.5" y="1327" font-size="17" text-anchor="middle" textLength="101.5" lengthAdjust="spacingAndGlyphs">spindle length</text>
<text x="238.5" y="1560.8" font-size="17" text-anchor="middle" textLength="101.5" lengthAdjust="spacingAndGlyphs">spindle length</text>
<text transform="translate(56,1199.6) rotate(-90)" font-size="16" text-anchor="middle">Fraction</text>
<text transform="translate(56,1432.7) rotate(-90)" font-size="16" text-anchor="middle">Fraction</text>

<g fill="none" stroke="#222" stroke-width="1">
<path d="M93.2 1287.6C112.6 1135 135.1 1110.3 222.2 1110.3L272.7 1110.3"/>
<path d="M93.2 1287.6C121.2 1150 153.8 1110.3 272.6 1110.3L300 1110.3"/>
<path d="M93.2 1287.6C125.5 1155 163.2 1110.3 272.6 1110.3L320 1110.3"/>
<path d="M93.2 1287.6C129.8 1158 172.6 1110.3 280 1110.3L330 1110.3"/>
<path d="M93.2 1287.6C134.1 1160 181.8 1110.3 285 1110.3L340 1110.3"/>
<path d="M93.2 1287.6C140.5 1165 195.8 1110.3 290 1110.3L368.3 1110.3"/>
</g>
<g fill="none" stroke="#e0202a" stroke-width="1">
<path d="M93.2 1287.6C107.2 1128 123.5 1110.3 186.5 1110.3L212.9 1110.3"/>
<path d="M93.2 1287.6C108.3 1128 125.8 1110.3 193.6 1110.3L220 1110.3"/>
<path d="M93.2 1287.6C109.3 1132 128.2 1110.3 200.8 1110.3L230 1110.3"/>
<path d="M93.2 1287.6C110.4 1132 130.5 1110.3 208 1110.3L240 1110.3"/>
<path d="M93.2 1287.6C111.5 1136 132.8 1110.3 215.2 1110.3L248 1110.3"/>
<path d="M93.2 1287.6C125.5 1154.6 163.2 1110.3 272.6 1110.3"/>
<path d="M93.2 1287.6C128.7 1154.6 170.2 1110.3 272.6 1110.3"/>
</g>
<g fill="none" stroke="#1f9a3c" stroke-width="1">
<path d="M93.2 1520C114.7 1372 139.8 1343.4 236.7 1343.4L392.2 1343.4"/>
<path d="M93.2 1520C118 1375 146.8 1343.4 258.2 1343.4L392.2 1343.4"/>
<path d="M93.2 1520C121.2 1378 153.8 1343.4 279.8 1343.4L392.2 1343.4"/>
<path d="M93.2 1520C124.4 1380 160.9 1343.4 284.6 1343.4L392.2 1343.4"/>
<path d="M93.2 1520C127.7 1383 167.9 1343.4 284.6 1343.4L392.2 1343.4"/>
<path d="M93.2 1520C132 1385 177.2 1343.4 284.6 1343.4L392.2 1343.4"/>
<path d="M93.2 1520C137.3 1388 188.8 1343.4 284.6 1343.4L392.2 1343.4"/>
<path d="M93.2 1520C143.8 1392 202.8 1343.4 290 1343.4L392.2 1343.4"/>
</g>
<g fill="none" stroke="#222" stroke-width="1">
<path d="M93.2 1520C108.3 1365 125.8 1343.4 193.6 1343.4L212.9 1343.4"/>
<path d="M93.2 1520C110.4 1365 130.5 1343.4 208 1343.4L230 1343.4"/>
<path d="M93.2 1520C112.6 1368 135.2 1343.4 222.4 1343.4L240 1343.4"/>
<path d="M93.2 1520C115.8 1370 142.2 1343.4 243.8 1343.4L255 1343.4"/>
</g>

<!-- ================= PANEL G ================= -->
<text x="447" y="1118.4" font-size="31">g</text>
<g fill="none" stroke="#111" stroke-width="1.1">
<path d="M572.9 1133V1288.7M569 1133h3.9M569 1148.6h3.9M569 1164.2h3.9M569 1179.7h3.9M569 1195.3h3.9M569 1210.9h3.9M569 1226.4h3.9M569 1242h3.9M569 1257.6h3.9M569 1273.1h3.9M569 1288.7h3.9"/>
<path d="M787.3 1127.8V1284.6H1085.4M787.3 1268.9h3.5M787.3 1253.2h3.5M787.3 1237.6h3.5M787.3 1221.9h3.5M787.3 1206.2h3.5M787.3 1190.5h3.5M787.3 1174.8h3.5M787.3 1159.2h3.5M787.3 1143.5h3.5M787.3 1127.8h3.5M846.7 1284.6v-3.5M906.1 1284.6v-3.5M965.5 1284.6v-3.5M1024.9 1284.6v-3.5M1084.4 1284.6v-3.5"/>
</g>
<g font-size="14.5" text-anchor="end">
<text x="567.8" y="1138">200</text><text x="567.8" y="1169.2">160</text><text x="567.8" y="1200.3">120</text><text x="567.8" y="1231.4">80</text><text x="567.8" y="1262.6">40</text><text x="567.8" y="1293.7">0</text>
<text x="782.7" y="1132.8">1</text><text x="782.7" y="1164.2">0.8</text><text x="782.7" y="1195.5">0.6</text><text x="782.7" y="1226.9">0.4</text><text x="782.7" y="1258.2">0.2</text><text x="782.7" y="1289.6">0</text>
</g>
<g font-size="14.5" text-anchor="middle">
<text x="787.3" y="1301.2">0</text><text x="846.7" y="1301.2">200</text><text x="906.1" y="1301.2">400</text><text x="965.5" y="1301.2">600</text><text x="1024.9" y="1301.2">800</text><text x="1084.4" y="1301.2">1000</text>
</g>
<text x="584" y="1134" font-size="14.5" textLength="111" lengthAdjust="spacingAndGlyphs">p = 0.21, ranksum</text>
<text transform="translate(501,1217.1) rotate(-90)" font-size="16" text-anchor="middle" textLength="120.5" lengthAdjust="spacingAndGlyphs">NREM sleep bout</text>
<text transform="translate(518.5,1221.2) rotate(-90)" font-size="16" text-anchor="middle" textLength="114" lengthAdjust="spacingAndGlyphs">Median lenght (s)</text>
<line x1="609.9" y1="1154.4" x2="609.9" y2="1255.5" stroke="#111" stroke-width="1.2"/>
<rect x="594.6" y="1159.6" width="31" height="76.2" fill="#000"/>
<line x1="594.6" y1="1200" x2="625.6" y2="1200" stroke="#fff" stroke-width="1.3"/>
<line x1="671.3" y1="1218.1" x2="671.3" y2="1259.3" stroke="#222" stroke-width="1.2"/>
<rect x="655.6" y="1219.2" width="30.5" height="29.5" fill="#e8262c"/>
<line x1="655.6" y1="1222.4" x2="686.1" y2="1222.4" stroke="#fff" stroke-width="1.3"/>
<text x="609.4" y="1312.6" font-size="15.5" text-anchor="middle">Ctrl</text>
<text x="667.2" y="1312.6" font-size="15.5" text-anchor="middle" fill="#e31e24">FO</text>
<text transform="translate(752,1207.8) rotate(-90)" font-size="16.5" text-anchor="middle">fraction</text>
<text x="925.9" y="1325" font-size="16.5" text-anchor="middle" textLength="194" lengthAdjust="spacingAndGlyphs">NREM sleep bout length (s)</text>
<g fill="none" stroke-width="2.6" stroke-linecap="round">
<path d="M787.3 1284.6C823 1138 876.5 1127.8 1061.8 1127.8L1072.5 1127.8" stroke="#000"/>
<path d="M787.3 1284.6C814 1136 853.3 1127.8 990.5 1127.8L1063.6 1127.8" stroke="#e8141c"/>
</g>
<text x="857.5" y="1253.4" font-size="15.5">Ctrl vs <tspan fill="#e31e24">FO</tspan></text>
<text x="939.8" y="1253.4" font-size="15.5">: p = 8.2*10</text>
<text x="1029.9" y="1243" font-size="11">-6</text>

<!-- ================= PANEL H ================= -->
<text x="450" y="1345.8" font-size="31">h</text>
<g fill="none" stroke="#111" stroke-width="1.1">
<path d="M572.9 1369.7V1525.5M569 1369.7h3.9M569 1385.3h3.9M569 1400.9h3.9M569 1416.4h3.9M569 1432h3.9M569 1447.6h3.9M569 1463.2h3.9M569 1478.8h3.9M569 1494.3h3.9M569 1509.9h3.9M569 1525.5h3.9"/>
<path d="M787.3 1369.7V1525.5H1085.4M787.3 1509.9h3.5M787.3 1494.3h3.5M787.3 1478.8h3.5M787.3 1463.2h3.5M787.3 1447.6h3.5M787.3 1432h3.5M787.3 1416.4h3.5M787.3 1400.9h3.5M787.3 1385.3h3.5M787.3 1369.7h3.5M846.7 1525.5v-3.5M906.1 1525.5v-3.5M965.5 1525.5v-3.5M1024.9 1525.5v-3.5M1084.4 1525.5v-3.5"/>
</g>
<g font-size="14.5" text-anchor="end">
<text x="567.8" y="1374.7">200</text><text x="567.8" y="1405.9">160</text><text x="567.8" y="1437">120</text><text x="567.8" y="1468.2">80</text><text x="567.8" y="1499.3">40</text><text x="567.8" y="1530.5">0</text>
<text x="782.7" y="1374.7">1</text><text x="782.7" y="1405.9">0.8</text><text x="782.7" y="1437">0.6</text><text x="782.7" y="1468.2">0.4</text><text x="782.7" y="1499.3">0.2</text><text x="782.7" y="1530.5">0</text>
</g>
<g font-size="14.5" text-anchor="middle">
<text x="787.3" y="1542.1">0</text><text x="846.7" y="1542.1">200</text><text x="906.1" y="1542.1">400</text><text x="965.5" y="1542.1">600</text><text x="1024.9" y="1542.1">800</text><text x="1084.4" y="1542.1">1000</text>
</g>
<text x="584" y="1378" font-size="14.5" textLength="111" lengthAdjust="spacingAndGlyphs">p = 0.78, ranksum</text>
<text transform="translate(501,1453.2) rotate(-90)" font-size="16" text-anchor="middle" textLength="121.5" lengthAdjust="spacingAndGlyphs">NREM sleep bout</text>
<text transform="translate(518.5,1455.9) rotate(-90)" font-size="16" text-anchor="middle" textLength="118" lengthAdjust="spacingAndGlyphs">Median lenght (s)</text>
<line x1="611.7" y1="1399.8" x2="611.7" y2="1489.6" stroke="#111" stroke-width="1.2"/>
<rect x="595.5" y="1407.1" width="31" height="74.8" fill="#000"/>
<line x1="595.5" y1="1438.2" x2="626.5" y2="1438.2" stroke="#fff" stroke-width="1.3"/>
<line x1="671.3" y1="1387" x2="671.3" y2="1497.9" stroke="#111" stroke-width="1.2"/>
<rect x="655.6" y="1400.9" width="31" height="77.2" fill="#0c9b4b"/>
<line x1="655.6" y1="1417.1" x2="686.6" y2="1417.1" stroke="#fff" stroke-width="1.3"/>
<text x="608" y="1548.3" font-size="15.5" text-anchor="middle">Ctrl</text>
<text x="670.4" y="1548.3" font-size="15.5" text-anchor="middle" fill="#1a9f55">HO</text>
<text transform="translate(752,1449) rotate(-90)" font-size="16.5" text-anchor="middle">fraction</text>
<text x="925.9" y="1565" font-size="16.5" text-anchor="middle" textLength="194" lengthAdjust="spacingAndGlyphs">NREM sleep bout length (s)</text>
<g fill="none" stroke-width="2.6" stroke-linecap="round">
<path d="M787.3 1525.5C820 1380 863.8 1369.7 1022.6 1369.7L1084.4 1369.7" stroke="#000"/>
<path d="M787.3 1525.5C822 1381 868.4 1369.7 1037 1369.7L1048.5 1369.7" stroke="#22a33a"/>
</g>
<text x="857.5" y="1503.7" font-size="15.5">Ctrl vs <tspan fill="#1a9f55">HO</tspan></text>
<text x="940.7" y="1503.7" font-size="15.5">: p = 0.4</text>
</svg>
</body></html>
